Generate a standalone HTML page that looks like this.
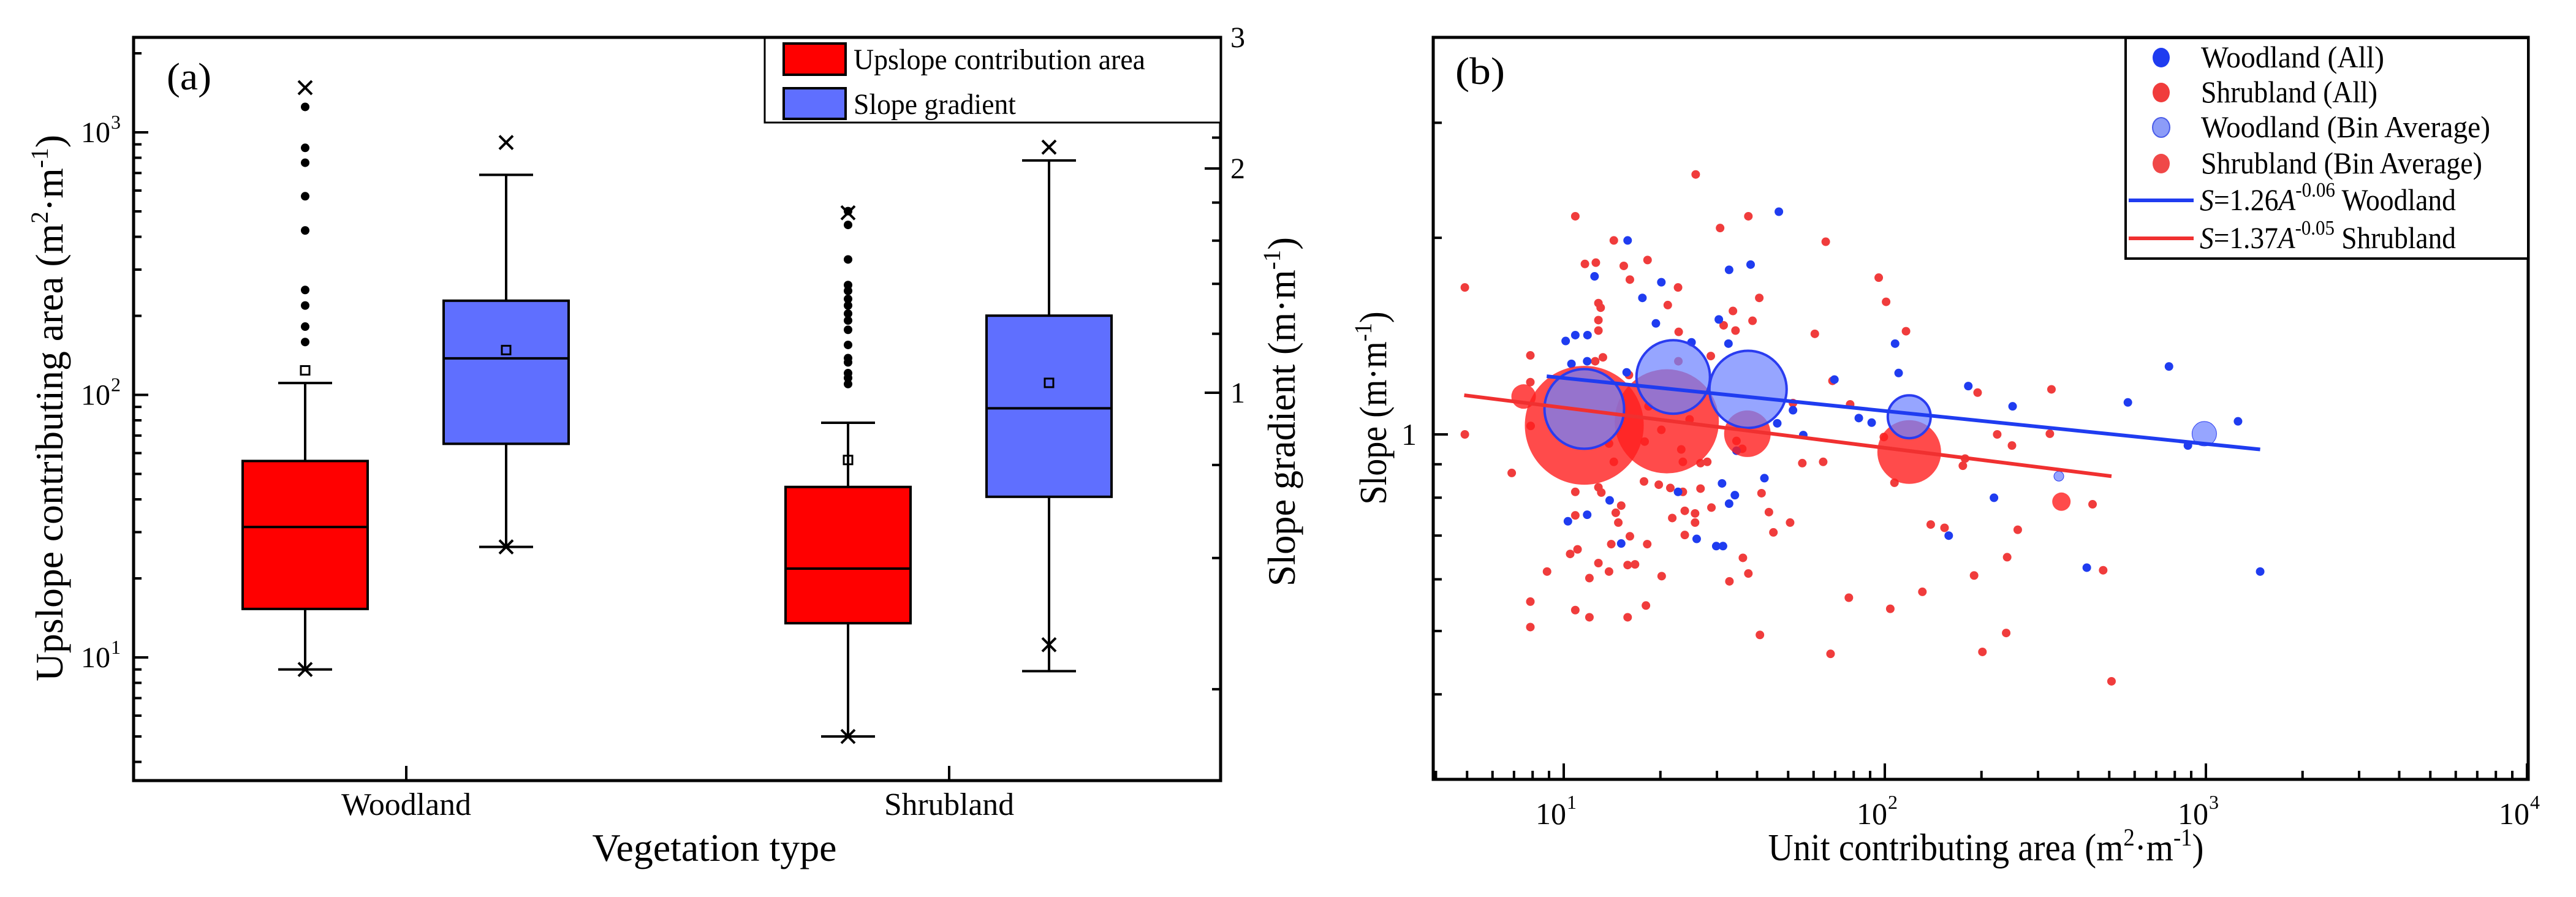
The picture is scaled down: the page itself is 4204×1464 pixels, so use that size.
<!DOCTYPE html>
<html><head><meta charset="utf-8"><style>
html,body{margin:0;padding:0;background:#fff;}
svg{display:block;font-family:"Liberation Serif",serif;}
</style></head><body>
<svg id="fig" xmlns="http://www.w3.org/2000/svg" width="4204" height="1464" viewBox="0 0 4204 1464">
<rect x="0" y="0" width="4204" height="1464" fill="#fff"/>
<g id="pa"></g>
<g id="pb"></g>
</svg>
<script>
// ===== Panel (a) data =====
const boxCategories = ["Woodland", "Shrubland"];
// upslope contributing area (m2/m) : [min, whiskerLow, q1, median, q3, whiskerHigh, max, mean]
const areaMin = [9.0, 5.0];
const areaWhiskerLow = [9.0, 5.0];
const areaQ1 = [15.3, 13.5];
const areaMedian = [31.4, 21.8];
const areaQ3 = [56, 44.6];
const areaWhiskerHigh = [111, 78.3];
const areaMax = [1480, 494];
const areaMean = [124, 56.5];
const areaOutliersWood = [1250, 873, 766, 571, 423, 251, 219, 182, 159];
const areaOutliersShrub = [501, 444, 328, 262, 249, 232, 219, 204, 192, 177, 155, 138, 133, 121, 116, 110];
// slope gradient (m/m)
const slopeWhiskerLow = [0.621, 0.423];
const slopeMin = [0.621, 0.459];
const slopeQ1 = [0.854, 0.725];
const slopeMedian = [1.112, 0.953];
const slopeQ3 = [1.329, 1.269];
const slopeWhiskerHigh = [1.961, 2.05];
const slopeMax = [2.167, 2.136];
const slopeMean = [1.141, 1.031];
const leftTickLabels = ["1", "2", "3"];   // exponents of 10
const rightTickLabels = ["1", "2", "3"];

// ===== Panel (b) data (log10 values) =====
const shrubLogA = [1.411,1.036,1.575,1.487,1.816,1.156,1.066,1.100,1.187,1.261,1.206,1.356,0.692,1.108,1.115,1.324,1.609,1.527,1.108,1.588,1.108,1.358,1.498,1.535,1.782,0.896,1.122,1.098,1.458,0.896,1.837,1.714,1.892,0.692,0.838,1.743,1.808,1.156,1.371,1.426,1.447,1.250,1.296,1.332,1.371,1.426,1.036,1.108,1.117,1.179,1.162,1.460,1.377,1.409,1.409,1.616,1.639,1.653,1.705,1.036,1.170,1.338,1.377,1.206,1.148,1.260,1.020,1.043,1.108,1.199,1.222,1.141,1.558,1.575,1.516,1.305,1.080,0.948,0.896,1.036,1.080,1.199,1.256,1.888,1.611,1.831,0.896,1.366,1.304,1.392,1.538,1.556,1.252,1.141,0.897,1.203,1.264,1.357,1.981,2.004,2.066,1.997,2.030,2.143,2.186,2.243,2.250,2.289,2.278,2.304,2.378,2.381,2.414,2.350,2.396,2.519,2.514,2.647,2.680,2.706,2.117,2.017];
const shrubLogS = [0.398,0.334,0.334,0.316,0.295,0.297,0.261,0.263,0.258,0.267,0.237,0.225,0.225,0.201,0.194,0.198,0.209,0.189,0.175,0.174,0.159,0.157,0.167,0.159,0.154,0.121,0.118,0.112,0.120,0.080,0.082,0.048,0.046,0.000,-0.059,-0.044,-0.042,-0.042,-0.042,-0.044,-0.042,-0.072,-0.077,-0.082,-0.088,-0.083,-0.088,-0.081,-0.089,-0.109,-0.120,-0.112,-0.117,-0.121,-0.135,-0.090,-0.119,-0.150,-0.135,-0.124,-0.135,-0.128,-0.154,-0.156,-0.168,-0.168,-0.183,-0.176,-0.197,-0.200,-0.199,-0.210,-0.189,-0.213,-0.225,-0.217,-0.220,-0.210,-0.256,-0.269,-0.280,-0.280,-0.262,-0.250,-0.307,-0.336,-0.295,-0.023,0.007,0.023,-0.010,-0.022,-0.011,-0.014,0.013,0.091,0.043,0.112,0.240,0.203,0.158,-0.004,-0.074,-0.138,-0.143,-0.048,-0.037,0.064,-0.216,-0.333,-0.304,-0.188,-0.146,0.000,-0.017,0.069,0.001,-0.107,-0.208,-0.378,-0.241,-0.267];
const woodLogA = [1.199,1.670,1.515,1.582,1.096,1.304,1.245,1.287,1.483,1.006,1.036,1.074,1.513,1.398,1.024,1.073,1.196,1.843,1.714,1.919,1.959,1.665,1.746,1.625,1.493,1.533,1.515,1.356,1.143,1.073,1.013,1.179,1.414,1.475,1.496,1.538,2.032,2.043,2.260,2.398,2.340,2.199,2.757,2.885,3.100,2.944,3.169,2.629];
const woodLogS = [0.297,0.341,0.252,0.260,0.242,0.233,0.209,0.170,0.176,0.143,0.152,0.152,0.139,0.141,0.108,0.112,0.095,0.084,0.037,0.025,0.018,0.017,-0.001,-0.067,-0.075,-0.093,-0.106,-0.088,-0.101,-0.123,-0.133,-0.167,-0.160,-0.171,-0.171,-0.025,0.139,0.094,0.074,0.043,-0.097,-0.155,0.049,0.104,0.020,-0.017,-0.210,-0.204];
const shrubBinLogA = [1.064, 1.321, 1.572, 2.076, 0.875, 2.550];
const shrubBinLogS = [0.014, 0.020, 0.001, -0.027, 0.058, -0.103];
const shrubBinSize = [97, 85, 38, 52, 20, 15];
const woodBinLogA = [1.064, 1.341, 1.574, 2.076, 2.995, 2.542];
const woodBinLogS = [0.039, 0.088, 0.069, 0.027, 0.001, -0.064];
const woodBinSize = [65, 60, 63, 35, 20, 8];
const woodFitLogA = [0.947, 3.169];
const woodFitLogS = [0.089, -0.023];
const shrubFitLogA = [0.690, 2.706];
const shrubFitLogS = [0.060, -0.064];
const xTickExps = ["1", "2", "3", "4"];

const NS = "http://www.w3.org/2000/svg";
function mk(parent, tag, attrs, text) {
  const e = document.createElementNS(NS, tag);
  for (const k in attrs) e.setAttribute(k, attrs[k]);
  if (text !== undefined) e.textContent = text;
  parent.appendChild(e);
  return e;
}
const pa = document.getElementById('pa');
const pb = document.getElementById('pb');
const L = Math.log10;

// ---------- Panel A ----------
const A = {l: 218, r: 1992, t: 61, b: 1274};
const yL = v => 1073 - (L(v) - 1) * 428.5;
const yR = v => 641 - L(v) * 1216;
const catX = [663, 1549];
const redOff = -165, blueOff = 163, bw = 204, cap = 44;

// boxes
for (let i = 0; i < boxCategories.length; i++) {
  const g = mk(pa, 'g', {});
  
  
  // red (area) box
  const cr = catX[i] + redOff;
  const w1 = mk(g, 'path', {d: `M${cr},${yL(areaQ3[i])}V${yL(areaWhiskerHigh[i])}M${cr-cap},${yL(areaWhiskerHigh[i])}H${cr+cap}M${cr},${yL(areaQ1[i])}V${yL(areaWhiskerLow[i])}M${cr-cap},${yL(areaWhiskerLow[i])}H${cr+cap}`, stroke: '#000', 'stroke-width': 4, fill: 'none'});
  
  
  const b1 = mk(g, 'rect', {x: cr - bw/2, y: yL(areaQ3[i]), width: bw, height: yL(areaQ1[i]) - yL(areaQ3[i]), fill: '#ff0000', stroke: '#000', 'stroke-width': 4});
  
  
  mk(g, 'line', {x1: cr - bw/2, x2: cr + bw/2, y1: yL(areaMedian[i]), y2: yL(areaMedian[i]), stroke: '#000', 'stroke-width': 4});
  const m1 = mk(g, 'rect', {x: cr - 7, y: yL(areaMean[i]) - 7, width: 14, height: 14, fill: 'none', stroke: '#000', 'stroke-width': 3});
  
  
  [areaMax[i], areaMin[i]].forEach(v => {
    const xm = mk(g, 'path', {d: `M${cr-11},${yL(v)-11}L${cr+11},${yL(v)+11}M${cr-11},${yL(v)+11}L${cr+11},${yL(v)-11}`, stroke: '#000', 'stroke-width': 4});
    
    
  });
  const outs = i === 0 ? areaOutliersWood : areaOutliersShrub;
  outs.forEach(v => {
    const d = mk(g, 'ellipse', {cx: cr, cy: yL(v), rx: 7, ry: 7, fill: '#000'});
    
    
  });
  // blue (slope) box
  const cb = catX[i] + blueOff;
  const w2 = mk(g, 'path', {d: `M${cb},${yR(slopeQ3[i])}V${yR(slopeWhiskerHigh[i])}M${cb-cap},${yR(slopeWhiskerHigh[i])}H${cb+cap}M${cb},${yR(slopeQ1[i])}V${yR(slopeWhiskerLow[i])}M${cb-cap},${yR(slopeWhiskerLow[i])}H${cb+cap}`, stroke: '#000', 'stroke-width': 4, fill: 'none'});
  
  
  const b2 = mk(g, 'rect', {x: cb - bw/2, y: yR(slopeQ3[i]), width: bw, height: yR(slopeQ1[i]) - yR(slopeQ3[i]), fill: '#5f6fff', stroke: '#000', 'stroke-width': 4});
  
  
  mk(g, 'line', {x1: cb - bw/2, x2: cb + bw/2, y1: yR(slopeMedian[i]), y2: yR(slopeMedian[i]), stroke: '#000', 'stroke-width': 4});
  const m2 = mk(g, 'rect', {x: cb - 7, y: yR(slopeMean[i]) - 7, width: 14, height: 14, fill: 'none', stroke: '#000', 'stroke-width': 3});
  
  
  [slopeMax[i], slopeMin[i]].forEach(v => {
    const xm = mk(g, 'path', {d: `M${cb-11},${yR(v)-11}L${cb+11},${yR(v)+11}M${cb-11},${yR(v)+11}L${cb+11},${yR(v)-11}`, stroke: '#000', 'stroke-width': 4});
    
    
  });
}

// frame A
const fa = mk(pa, 'rect', {x: A.l, y: A.t, width: A.r - A.l, height: A.b - A.t, fill: 'none', stroke: '#000', 'stroke-width': 5});


// left ticks
let td = '';
for (let d = 0; d <= 3; d++) for (let k = 1; k <= 9; k++) {
  const v = k * Math.pow(10, d); const y = yL(v);
  if (y < A.t + 2 || y > A.b - 2) continue;
  td += `M${A.l},${y}h${k === 1 ? 24 : 13}`;
}
const lt = mk(pa, 'path', {d: td, stroke: '#000', 'stroke-width': 4});


leftTickLabels.forEach(e => {
  const t = mk(pa, 'text', {x: 180, y: yL(Math.pow(10, +e)) + 16, 'font-size': 48, 'text-anchor': 'end'}, '10');
  
  
  mk(pa, 'text', {x: 181, y: yL(Math.pow(10, +e)) - 6, 'font-size': 32}, e);
});
// right ticks
td = '';
for (let v = 0.4; v < 2.95; v += 0.2) {
  const vv = Math.round(v * 10) / 10; const y = yR(vv);
  const major = (vv === 1 || vv === 2);
  td += `M${A.r},${y}h${major ? -26 : -14}`;
}
td += `M${A.r},${yR(3)}h-26`;
for (let v = 2.55; v < 3; v += 0.05) td += `M${A.r},${yR(v)}h-10`;
const rt = mk(pa, 'path', {d: td, stroke: '#000', 'stroke-width': 4});


rightTickLabels.forEach(e => {
  const t = mk(pa, 'text', {x: 2008, y: yR(+e) + 16, 'font-size': 48}, e);
  
  
});
// bottom ticks + labels
boxCategories.forEach((c, i) => {
  mk(pa, 'line', {x1: catX[i], x2: catX[i], y1: A.b, y2: A.b - 24, stroke: '#000', 'stroke-width': 4});
  const t = mk(pa, 'text', {x: catX[i], y: 1330, 'font-size': 52, 'text-anchor': 'middle', textLength: 212, lengthAdjust: 'spacingAndGlyphs'}, c);
  
  
});
</script>
<script>
// titles / legend A
(function(){
const pa = document.getElementById('pa');
const NS = "http://www.w3.org/2000/svg";
function mk(parent, tag, attrs, text) { const e = document.createElementNS(NS, tag); for (const k in attrs) e.setAttribute(k, attrs[k]); if (text !== undefined) e.textContent = text; parent.appendChild(e); return e; }
let t = mk(pa, 'text', {x: 1166, y: 1405, 'font-size': 64, 'text-anchor': 'middle', textLength: 399, lengthAdjust: 'spacingAndGlyphs'}, 'Vegetation type');


t = mk(pa, 'text', {x: 0, y: 0, 'font-size': 64, 'text-anchor': 'middle', transform: 'translate(102,666) rotate(-90)', textLength: 892, lengthAdjust: 'spacingAndGlyphs'});
t.innerHTML = 'Upslope contributing area (m<tspan font-size="40" dy="-24">2</tspan><tspan dy="24">·m</tspan><tspan font-size="40" dy="-24">-1</tspan><tspan dy="24">)</tspan>';


t = mk(pa, 'text', {x: 0, y: 0, 'font-size': 64, 'text-anchor': 'middle', transform: 'translate(2113,672) rotate(-90)', textLength: 570, lengthAdjust: 'spacingAndGlyphs'});
t.innerHTML = 'Slope gradient (m·m<tspan font-size="40" dy="-24">-1</tspan><tspan dy="24">)</tspan>';


t = mk(pa, 'text', {x: 272, y: 146, 'font-size': 62, textLength: 73, lengthAdjust: 'spacingAndGlyphs'}, '(a)');


const lg = mk(pa, 'g', {});


mk(lg, 'rect', {x: 1248, y: 62, width: 744, height: 138, fill: '#fff', stroke: '#000', 'stroke-width': 3});
let s = mk(lg, 'rect', {x: 1279, y: 71, width: 101, height: 51, fill: '#ff0000', stroke: '#000', 'stroke-width': 4});


s = mk(lg, 'rect', {x: 1279, y: 144, width: 101, height: 50, fill: '#5f6fff', stroke: '#000', 'stroke-width': 4});


t = mk(lg, 'text', {x: 1393, y: 113, 'font-size': 48, textLength: 476, lengthAdjust: 'spacingAndGlyphs'}, 'Upslope contribution area');


t = mk(lg, 'text', {x: 1393, y: 186, 'font-size': 48, textLength: 265, lengthAdjust: 'spacingAndGlyphs'}, 'Slope gradient');


})();
</script>
<script>
// ---------- Panel B ----------
(function(){
const pb = document.getElementById('pb');
const NS = "http://www.w3.org/2000/svg";
function mk(parent, tag, attrs, text) { const e = document.createElementNS(NS, tag); for (const k in attrs) e.setAttribute(k, attrs[k]); if (text !== undefined) e.textContent = text; parent.appendChild(e); return e; }
const B = {l: 2339, r: 4126, t: 61, b: 1272};
const xB = la => 2552 + (la - 1) * 524;
const yB = ls => 709 - ls * 1066;

const sg = mk(pb, 'g', {});


for (let i = 0; i < shrubLogA.length; i++) {
  const c = mk(sg, 'ellipse', {cx: xB(shrubLogA[i]), cy: yB(shrubLogS[i]), rx: 7, ry: 7, fill: '#f03c3c'});
  
  
}
for (let i = 0; i < woodLogA.length; i++) {
  const c = mk(sg, 'ellipse', {cx: xB(woodLogA[i]), cy: yB(woodLogS[i]), rx: 7, ry: 7, fill: '#1f3cf0'});
  
  
}
for (let i = 0; i < shrubBinLogA.length; i++) {
  const c = mk(sg, 'circle', {cx: xB(shrubBinLogA[i]), cy: yB(shrubBinLogS[i]), r: shrubBinSize[i], fill: 'rgba(255,30,30,0.8)'});
  
  
}
for (let i = 0; i < woodBinLogA.length; i++) {
  const c = mk(sg, 'circle', {cx: xB(woodBinLogA[i]), cy: yB(woodBinLogS[i]), r: woodBinSize[i], fill: 'rgba(110,130,255,0.72)', stroke: '#2a3cf0', 'stroke-width': woodBinSize[i] > 30 ? 4 : 1});
  
  
}
let ln = mk(pb, 'line', {x1: xB(woodFitLogA[0]), y1: yB(woodFitLogS[0]), x2: xB(woodFitLogA[1]), y2: yB(woodFitLogS[1]), stroke: '#1f3cf0', 'stroke-width': 6});


ln = mk(pb, 'line', {x1: xB(shrubFitLogA[0]), y1: yB(shrubFitLogS[0]), x2: xB(shrubFitLogA[1]), y2: yB(shrubFitLogS[1]), stroke: '#f03030', 'stroke-width': 6});



const fb = mk(pb, 'rect', {x: B.l, y: B.t, width: B.r - B.l, height: B.b - B.t, fill: 'none', stroke: '#000', 'stroke-width': 5});


let td = '';
for (let d = 0; d <= 3; d++) for (let k = 1; k <= 9; k++) {
  const x = xB(L(k) + d); if (x < B.l + 2 || x > B.r + 2) continue;
  td += `M${x},${B.b}v${k === 1 ? -26 : -14}`;
}
td += `M${xB(4)},${B.b}v-26`;
const ylogs = [L(0.4), L(0.5), L(0.6), L(0.7), L(0.8), L(0.9), L(2), L(3)];
ylogs.forEach(v => { td += `M${B.l},${yB(v)}h14`; });
td += `M${B.l},${yB(0)}h24`;
const bt = mk(pb, 'path', {d: td, stroke: '#000', 'stroke-width': 4});


xTickExps.forEach(e => {
  const x = xB(+e);
  const t = mk(pb, 'text', {x: x + 4, y: 1345, 'font-size': 50, 'text-anchor': 'end'}, '10');
  
  
  mk(pb, 'text', {x: x + 5, y: 1320, 'font-size': 32}, e);
});
let t = mk(pb, 'text', {x: 2312, y: yB(0) + 17, 'font-size': 50, 'text-anchor': 'end'}, '1');


t = mk(pb, 'text', {x: 3241, y: 1404, 'font-size': 62, 'text-anchor': 'middle', textLength: 711, lengthAdjust: 'spacingAndGlyphs'});
t.innerHTML = 'Unit contributing area (m<tspan font-size="40" dy="-24">2</tspan><tspan dy="24">·m</tspan><tspan font-size="40" dy="-24">-1</tspan><tspan dy="24">)</tspan>';


t = mk(pb, 'text', {x: 0, y: 0, 'font-size': 62, 'text-anchor': 'middle', transform: 'translate(2262,666) rotate(-90)', textLength: 315, lengthAdjust: 'spacingAndGlyphs'});
t.innerHTML = 'Slope (m·m<tspan font-size="40" dy="-24">-1</tspan><tspan dy="24">)</tspan>';


t = mk(pb, 'text', {x: 2375, y: 137, 'font-size': 62, textLength: 81, lengthAdjust: 'spacingAndGlyphs'}, '(b)');



const lg = mk(pb, 'g', {});


mk(lg, 'rect', {x: 3469, y: 62, width: 657, height: 360, fill: '#fff', stroke: '#000', 'stroke-width': 4});
const entries = [
  ['Woodland  (All)', '#1f3cf0', 94, 299, 'legend-entry-woodland-all'],
  ['Shrubland (All)', '#f03c3c', 151, 288, 'legend-entry-shrubland-all'],
  ['Woodland  (Bin Average)', '#8c9cf8', 208, 472, 'legend-entry-woodland-bin'],
  ['Shrubland (Bin Average)', '#f04848', 267, 459, 'legend-entry-shrubland-bin']
];
entries.forEach(en => {
  const c = mk(lg, 'ellipse', {cx: 3527, cy: en[2], rx: 14, ry: 16, fill: en[1], stroke: en[0].includes('Woodland  (Bin') ? '#4a5ce8' : 'none', 'stroke-width': 2});
  
  
  const tt = mk(lg, 'text', {x: 3592, y: en[2] + 16, 'font-size': 50, textLength: en[3], lengthAdjust: 'spacingAndGlyphs', 'xml:space': 'preserve'}, en[0]);
  
  
});
[['1.26', '-0.06', 'Woodland', '#1f3cf0', 327, 'legend-entry-woodland-fit'], ['1.37', '-0.05', 'Shrubland', '#f03030', 389, 'legend-entry-shrubland-fit']].forEach(en => {
  const l = mk(lg, 'line', {x1: 3474, x2: 3580, y1: en[4], y2: en[4], stroke: en[3], 'stroke-width': 6});
  
  
  const tt = mk(lg, 'text', {x: 3590, y: en[4] + 16, 'font-size': 50, textLength: 418, lengthAdjust: 'spacingAndGlyphs'});
  tt.innerHTML = '<tspan font-style="italic">S</tspan>=' + en[0] + '<tspan font-style="italic">A</tspan><tspan font-size="34" dy="-22">' + en[1] + '</tspan><tspan dy="22"> ' + en[2] + '</tspan>';
  
  
});
})();
</script>
</body></html>
